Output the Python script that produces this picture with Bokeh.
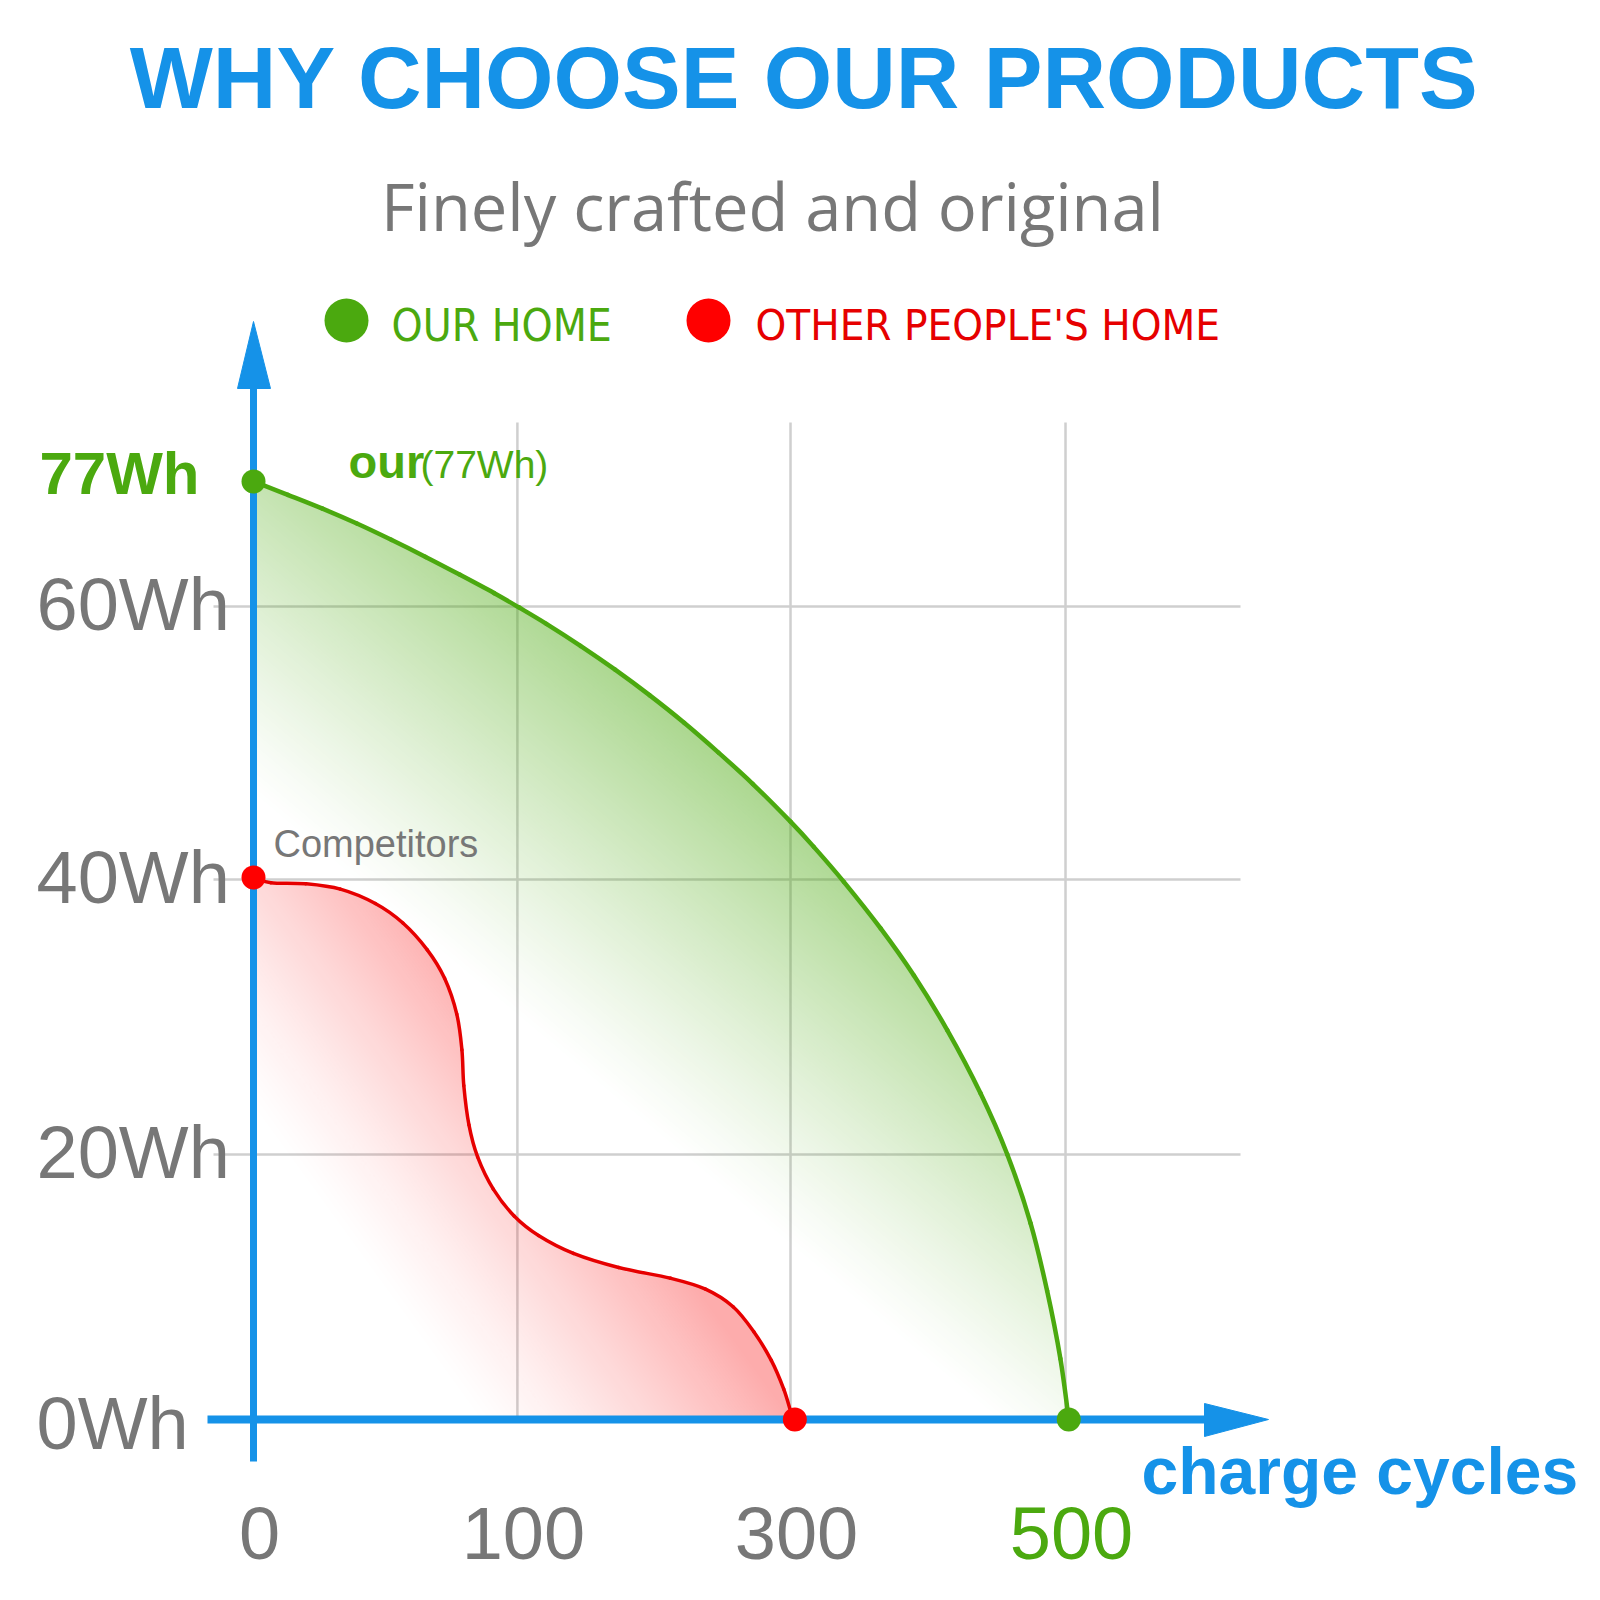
import numpy as np
from bokeh.plotting import figure
from bokeh.models import Range1d
from bokeh.core.properties import value
from bokeh.embed import file_html
from bokeh.resources import INLINE

# ---------------- data ----------------
title = "WHY CHOOSE OUR PRODUCTS"
subtitle = "Finely crafted and original"
legend_labels = ["OUR HOME", "OTHER PEOPLE'S HOME"]

# axis positions as drawn in the picture (grid units), with their labels
x_tick_pos = [0, 0.975, 1.984, 3.0]
x_tick_labels = ["0", "100", "300", "500"]
y_tick_pos = [0, 0.978, 1.993, 3.0]
y_tick_labels = ["0Wh", "20Wh", "40Wh", "60Wh"]
our_peak_pos = 3.46
our_peak_label = "77Wh"

# our product capacity curve (grid units)
our_x = [0.0, 0.019, 0.127, 0.255, 0.382, 0.509, 0.636, 0.763, 0.890, 0.980, 1.082,
         1.208, 1.336, 1.463, 1.591, 1.718, 1.845, 1.984, 2.070, 2.181, 2.317, 2.440,
         2.563, 2.686, 2.785, 2.871, 2.932, 2.981, 3.012]
our_y = [3.461, 3.454, 3.412, 3.361, 3.306, 3.246, 3.183, 3.117, 3.049, 2.997, 2.936,
         2.855, 2.767, 2.673, 2.571, 2.461, 2.345, 2.206, 2.113, 1.984, 1.812, 1.638,
         1.437, 1.204, 0.978, 0.724, 0.475, 0.225, 0.0]

# competitors capacity curve
comp_x = [0.0, 0.064, 0.192, 0.321, 0.450, 0.552, 0.642, 0.706, 0.751, 0.770, 0.777,
          0.796, 0.828, 0.886, 0.963, 1.053, 1.182, 1.349, 1.541, 1.670, 1.772, 1.849,
          1.913, 1.959, 1.988, 2.0]
comp_y = [2.0, 1.981, 1.977, 1.957, 1.904, 1.832, 1.733, 1.628, 1.496, 1.364, 1.232,
          1.087, 0.969, 0.850, 0.751, 0.679, 0.613, 0.561, 0.521, 0.481, 0.416, 0.323,
          0.218, 0.112, 0.020, 0.0]

# ---------------- layout / style ----------------
W = H = 1600
X0, XS = 253.0, 270.67   # pixel of x=0, pixels per grid unit
Y0, YS = 1419.0, 271.0   # pixel of y=0, pixels per grid unit


def U(px):
    return (px - X0) / XS


def V(py):
    return (Y0 - py) / YS


BLUE = "#1592E8"
GREEN = "#4BA90F"
RED = "#E60000"
GRAY = "#777777"
GRID = "#cfcfcf"
SANS = "Liberation Sans"
BASE_SHIFT = 0.37   # renderer places alphabetic baseline ~0.37em low

p = figure(width=W, height=H, x_range=Range1d(U(0), U(W)), y_range=Range1d(V(H), V(0)),
           output_backend="svg", toolbar_location=None, min_border=0,
           x_axis_type=None, y_axis_type=None)
p.grid.visible = False
p.outline_line_color = None
p.background_fill_color = "white"
p.border_fill_color = "white"


def smooth_segments(xs, ys):
    """Cubic Bezier control points (Catmull-Rom style) through the read points."""
    P = np.column_stack([xs, ys]).astype(float)
    Q = np.vstack([P[0], P, P[-1]])
    segs = []
    for i in range(len(P) - 1):
        p0, p1, p2, p3 = Q[i], Q[i + 1], Q[i + 2], Q[i + 3]
        c1 = p1 + (p2 - p0) / 6.0
        c2 = p2 - (p3 - p1) / 6.0
        segs.append((p1, c1, c2, p2))
    return segs


def draw_smooth(segs, color, width):
    p.bezier(x0=[s[0][0] for s in segs], y0=[s[0][1] for s in segs],
             x1=[s[3][0] for s in segs], y1=[s[3][1] for s in segs],
             cx0=[s[1][0] for s in segs], cy0=[s[1][1] for s in segs],
             cx1=[s[2][0] for s in segs], cy1=[s[2][1] for s in segs],
             line_color=color, line_width=width, line_cap="round")


def outline(segs, n=24):
    t = np.linspace(0, 1, n)[:, None]
    pts = []
    for a, b, c, d in segs:
        pts.append((1 - t) ** 3 * a + 3 * (1 - t) ** 2 * t * b + 3 * (1 - t) * t ** 2 * c + t ** 3 * d)
    pts = np.vstack(pts)
    return np.maximum.accumulate(pts[:, 0]), pts[:, 1]


our_segs = smooth_segments(our_x, our_y)
comp_segs = smooth_segments(comp_x, comp_y)

# gridlines
gx = x_tick_pos[1:]
p.segment(x0=gx, y0=[0] * len(gx), x1=gx, y1=[V(422)] * len(gx), line_color=GRID, line_width=2.5)
gy = y_tick_pos[1:]
p.segment(x0=[U(213)] * len(gy), y0=gy, x1=[U(1240)] * len(gy), y1=gy, line_color=GRID, line_width=2.5)

# gradient fills as an RGBA image bounded by the curves
nx = int(np.ceil(max(our_x) * XS)) + 4
ny = int(np.ceil(max(our_y) * YS)) + 4
uu = (np.arange(nx) + 0.5) / XS
vv = (np.arange(ny) + 0.5) / YS
UU, VV = np.meshgrid(uu, vv)
PX = X0 + UU * XS
PY = Y0 - VV * YS

ox, oy = outline(our_segs)
fg = np.interp(UU, ox, oy, right=-1.0)
cov_g = np.clip((fg - VV) * YS + 0.5, 0, 1)
dg = (PX - 257) * 0.643 + (PY - 803) * (-0.766)
ag = 0.46 * np.clip(dg / 330.0, 0, 1) ** 1.15 * cov_g

rx, ry = outline(comp_segs)
fr = np.interp(UU, rx, ry, right=-1.0)
cov_r = np.clip((fr - VV) * YS + 0.5, 0, 1)
dr = (PX - 253) * 0.809 + (PY - 1120) * (-0.587)
ar = 0.34 * np.clip(dr / 260.0, 0, 1) ** 1.3 * cov_r
ag = ag * (1 - cov_r)

cg = np.array([76, 170, 16], dtype=float)
cr = np.array([250, 10, 10], dtype=float)
a = ar + ag * (1 - ar)
safe = np.where(a > 0, a, 1)
col = (cr[None, None, :] * ar[..., None] + cg[None, None, :] * (ag * (1 - ar))[..., None]) / safe[..., None]

img = np.empty((ny, nx), dtype=np.uint32)
view = img.view(dtype=np.uint8).reshape((ny, nx, 4))
view[:, :, 0:3] = np.clip(col, 0, 255).astype(np.uint8)
view[:, :, 3] = np.clip(a * 255, 0, 255).astype(np.uint8)
p.image_rgba(image=[img], x=0, y=0, dw=nx / XS, dh=ny / YS)

# axes with arrows
p.segment(x0=[0], y0=[V(1461)], x1=[0], y1=[V(388)], line_color=BLUE, line_width=7)
p.patch([U(237), U(253), U(270)], [V(388), V(321), V(388)], fill_color=BLUE, line_color=BLUE)
p.segment(x0=[U(207)], y0=[0], x1=[U(1204)], y1=[0], line_color=BLUE, line_width=8)
p.patch([U(1204), U(1268), U(1204)], [V(1403), V(1419), V(1436)], fill_color=BLUE, line_color=BLUE)

# curves
draw_smooth(our_segs, GREEN, 4.5)
draw_smooth(comp_segs, RED, 3.5)
p.scatter([our_x[0], our_x[-1]], [our_y[0], our_y[-1]], size=24, fill_color=GREEN, line_color=None)
p.scatter([comp_x[0], comp_x[-1]], [comp_y[0], comp_y[-1]], size=24, fill_color="#FF0000", line_color=None)


def T(text, x, y, size, color, font=SANS, style="normal", align="left"):
    y = [yy + BASE_SHIFT * size / YS for yy in y]
    p.text(x=x, y=y, text=text, text_font=value(font), text_font_size=f"{size}px",
           text_color=color, text_font_style=style, text_align=align, text_baseline="alphabetic")


# titles
T([title], [U(804)], [V(110)], 88, BLUE, style="bold", align="center")
T([subtitle], [U(772)], [V(230)], 65, GRAY, font="Open Sans", align="center")

# legend
p.scatter([U(346)], [V(320)], size=44, fill_color=GREEN, line_color=None)
p.scatter([U(708)], [V(320)], size=44, fill_color="#FF0000", line_color=None)
LEG_FONT = "DejaVu Sans Condensed, Liberation Sans"
T([legend_labels[0]], [U(391)], [V(341)], 44, GREEN, font=LEG_FONT)
T([legend_labels[1]], [U(755)], [V(341)], 43.5, RED, font=LEG_FONT)

# y tick labels
T(y_tick_labels[1:], [U(36)] * 3, [t - 25 / YS for t in y_tick_pos[1:]], 74, GRAY)
T([y_tick_labels[0]], [U(36)], [y_tick_pos[0] - 31 / YS], 74, GRAY)
T([our_peak_label], [U(39)], [our_peak_pos - 14 / YS], 60, GREEN, style="bold")

# x tick labels
x_colors = [GRAY, GRAY, GRAY, GREEN]
T(x_tick_labels, [t + 6 / XS for t in x_tick_pos], [V(1560)] * 4, 74, x_colors, align="center")

# annotations
T(["our"], [U(348)], [V(478)], 47, GREEN, style="bold")
T(["(77Wh)"], [U(420)], [V(478)], 39, GREEN)
T(["Competitors"], [U(273)], [V(858)], 38, GRAY)
T(["charge cycles"], [U(1141)], [V(1495)], 66, BLUE, style="bold")

open("out.html", "w").write(file_html(p, INLINE))
